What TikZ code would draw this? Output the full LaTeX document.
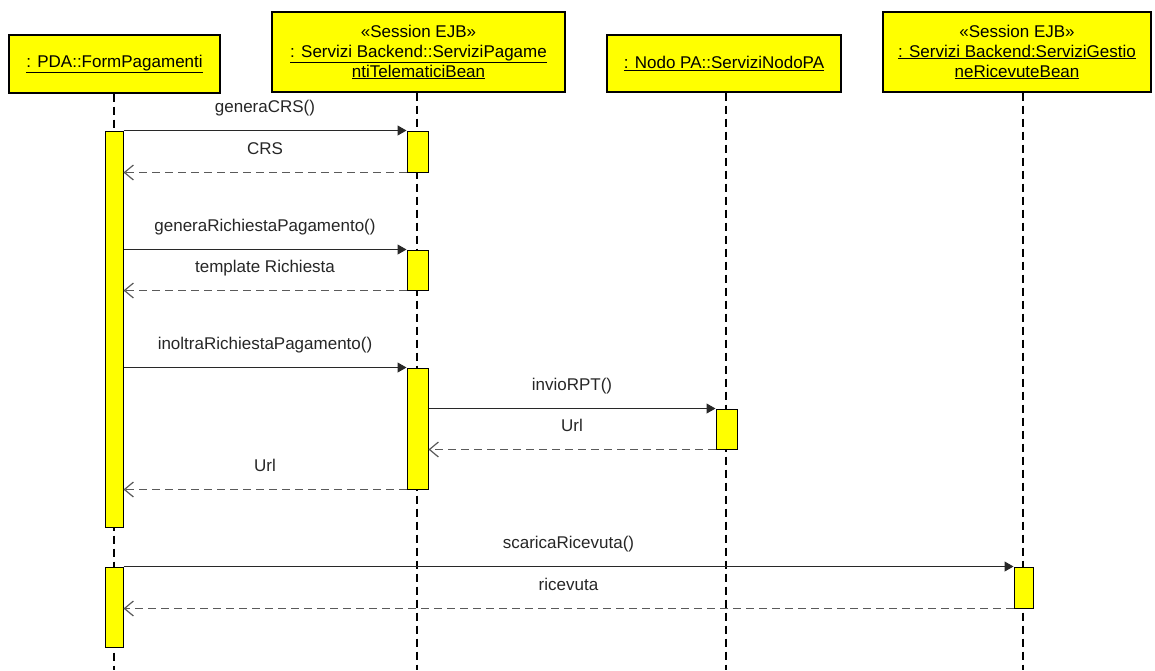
\documentclass[tikz,border=0pt]{standalone}
\usepackage{fontspec}
\setmainfont{Liberation Sans}
\usetikzlibrary{arrows.meta}
\definecolor{uyellow}{RGB}{255,255,0}
\definecolor{retgray}{RGB}{90,90,90}
\definecolor{linedark}{RGB}{40,40,40}
\tikzset{
  hdr/.style={draw=black, line width=1.2pt, fill=uyellow, inner sep=0pt, align=center,
    font=\fontsize{17}{20}\selectfont},
  actbar/.style={draw=black, line width=1pt, fill=uyellow, inner sep=0pt, minimum width=19pt},
  lifeline/.style={draw=black, line width=1.2pt, dash pattern=on 8pt off 5pt},
  msgline/.style={draw=linedark, line width=1.1pt, -{Triangle[length=9pt,width=10pt]}},
  retline/.style={draw=retgray, line width=1.2pt, dash pattern=on 8pt off 5pt,
    -{Straight Barb[length=9pt,width=15pt,line width=1.2pt]}},
  lbl/.style={font=\fontsize{17}{20}\selectfont, text=black!85, inner sep=0pt, anchor=base, yshift=18pt}
}
\begin{document}
\begin{tikzpicture}[x=1pt,y=-1pt]
\useasboundingbox (0,0) rectangle (1155,670);

% headers
\node[hdr, minimum width=211pt, minimum height=58pt] (h1) at (114.5,64) {\underline{: PDA::FormPagamenti}};
\node[hdr, minimum width=293pt, minimum height=80pt] (h2) at (418.5,52) {«Session EJB»\\ \underline{: Servizi Backend::ServiziPagame}\\ \underline{ntiTelematiciBean}};
\node[hdr, minimum width=234pt, minimum height=57pt] (h3) at (724,63.5) {\underline{: Nodo PA::ServiziNodoPA}};
\node[hdr, minimum width=268pt, minimum height=80pt] (h4) at (1017,52) {«Session EJB»\\ \underline{: Servizi Backend:ServiziGestio}\\ \underline{neRicevuteBean}};

% lifeline ends
\coordinate (e1) at (114,670);
\coordinate (e2) at (417,670);
\coordinate (e3) at (726,670);
\coordinate (e4) at (1023,670);
\draw[lifeline] (h1.south -| e1) -- (e1);
\draw[lifeline] (h2.south -| e2) -- (e2);
\draw[lifeline] (h3.south -| e3) -- (e3);
\draw[lifeline] (h4.south -| e4) -- (e4);

% activation bars
\node[actbar, minimum width=18pt, minimum height=396pt] (a1) at (114,329) {};
\node[actbar, minimum width=21pt, minimum height=41pt] (a2) at (417.5,151.5) {};
\node[actbar, minimum width=21pt, minimum height=40pt] (a3) at (417.5,270) {};
\node[actbar, minimum width=21pt, minimum height=121pt] (a4) at (417.5,428.5) {};
\node[actbar, minimum width=21pt, minimum height=40pt] (a5) at (726.5,429) {};
\node[actbar, minimum width=18pt, minimum height=80pt] (a6) at (114,607) {};
\node[actbar, minimum width=19pt, minimum height=41pt] (a7) at (1023.5,587.5) {};

% messages
\draw[msgline] (a1.north east) -- (a2.north west) node[lbl, midway] (m1) {generaCRS()};
\draw[retline] (a2.south west) -- (a2.south west -| a1.east) node[lbl, midway] (m2) {CRS};
\draw[msgline] (a3.north west -| a1.east) -- (a3.north west) node[lbl, midway] (m3) {generaRichiestaPagamento()};
\draw[retline] (a3.south west) -- (a3.south west -| a1.east) node[lbl, midway] (m4) {template Richiesta};
\draw[msgline] (a4.north west -| a1.east) -- (a4.north west) node[lbl, midway] (m5) {inoltraRichiestaPagamento()};
\draw[msgline] (a5.north west -| a4.east) -- (a5.north west) node[lbl, midway] (m6) {invioRPT()};
\draw[retline] (a5.south west) -- (a5.south west -| a4.east) node[lbl, midway] (m7) {Url};
\draw[retline] (a4.south west) -- (a4.south west -| a1.east) node[lbl, midway] (m8) {Url};
\draw[msgline] (a6.north east) -- (a7.north west) node[lbl, midway] (m9) {scaricaRicevuta()};
\draw[retline] (a7.south west) -- (a7.south west -| a6.east) node[lbl, midway] (m10) {ricevuta};
\end{tikzpicture}
\end{document}
